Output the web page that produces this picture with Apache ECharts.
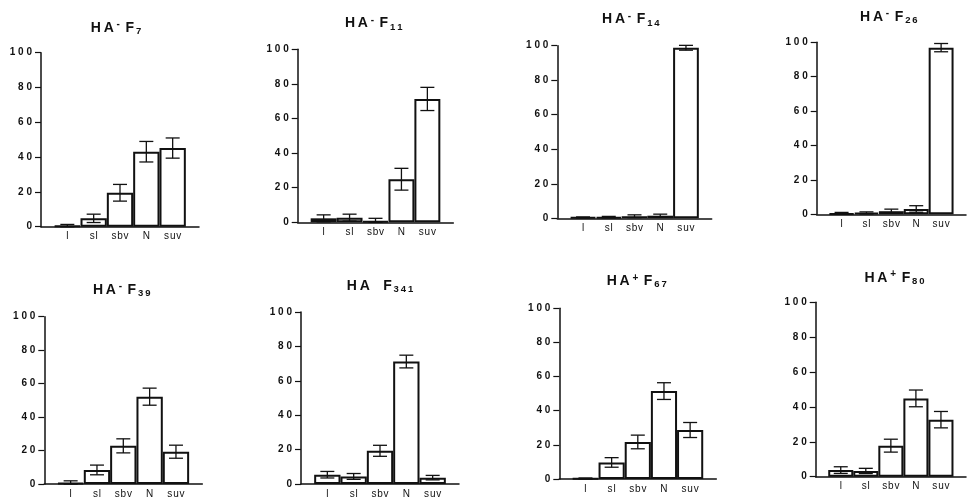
<!DOCTYPE html>
<html>
<head>
<meta charset="utf-8">
<script src="https://cdn.jsdelivr.net/npm/echarts@6/dist/echarts.min.js"></script>
<style>
html,body{margin:0;padding:0;background:#fff;}
#chart{width:969px;height:499px;}
</style>
</head>
<body>
<div id="chart"></div>
<script>
// ---- data ----
const categories = ['l', 'sl', 'sbv', 'N', 'suv'];
const yTicks = [0, 20, 40, 60, 80, 100];

const valuesF7   = [0.5, 4.8, 19.5, 43.1, 45.2];
const errorsF7   = [0.8, 2.4, 4.8, 5.9, 5.8];
const valuesF11  = [2.3, 2.7, 0.5, 24.9, 71.3];
const errorsF11  = [2.0, 2.0, 1.8, 6.3, 6.7];
const valuesF14  = [0.5, 0.7, 1.2, 1.5, 98.8];
const errorsF14  = [0.3, 0.4, 0.8, 0.9, 1.4];
const valuesF26  = [0.3, 0.8, 1.8, 3.1, 96.9];
const errorsF26  = [0.8, 0.6, 1.2, 1.9, 2.4];
const valuesF39  = [0.6, 8.4, 22.8, 52.2, 19.3];
const errorsF39  = [1.3, 2.9, 4.2, 5.1, 3.9];
const valuesF341 = [5.4, 4.4, 19.3, 71.2, 3.7];
const errorsF341 = [1.9, 1.7, 3.2, 3.7, 1.3];
const valuesF67  = [0.3, 9.7, 21.7, 51.5, 28.7];
const errorsF67  = [0.3, 2.8, 4.0, 4.9, 4.4];
const valuesF80  = [3.8, 3.3, 17.8, 44.9, 32.7];
const errorsF80  = [1.9, 1.5, 3.7, 4.8, 4.7];

// title parts: [sign, subscript]
const panels = [
  {sign: '-', sub: '7',   values: valuesF7,   errors: errorsF7},
  {sign: '-', sub: '11',  values: valuesF11,  errors: errorsF11},
  {sign: '-', sub: '14',  values: valuesF14,  errors: errorsF14},
  {sign: '-', sub: '26',  values: valuesF26,  errors: errorsF26},
  {sign: '-', sub: '39',  values: valuesF39,  errors: errorsF39},
  {sign: '',  sub: '341', values: valuesF341, errors: errorsF341},
  {sign: '+', sub: '67',  values: valuesF67,  errors: errorsF67},
  {sign: '+', sub: '80',  values: valuesF80,  errors: errorsF80}
];

// ---- layout (pixels) ----
const grids = [
  {left: 41,    top: 52.7,  width: 158,   height: 174},
  {left: 297.7, top: 49.3,  width: 155.6, height: 173},
  {left: 557.3, top: 45.7,  width: 154.4, height: 172.6},
  {left: 816.7, top: 42.3,  width: 151.3, height: 172},
  {left: 44.3,  top: 316.7, width: 158,   height: 171},
  {left: 301,   top: 312,   width: 158,   height: 172.3},
  {left: 559.3, top: 308.3, width: 157,   height: 170.7},
  {left: 815.7, top: 302.3, width: 156.3, height: 174.4}
];
const titlePos = [
  [116, 28], [373.7, 23.5], [630.8, 19.5], [888.8, 16.8],
  [121.7, 290], [380, 285.8], [636.7, 281.3], [894.5, 278]
];

const axisCats = [''].concat(categories, ['']);
const spaced = s => String(s).split('').join(' ');
const thin = s => String(s).split('').join('\u2009');
const FONT = 'Liberation Sans, Arial, sans-serif';

const option = {
  animation: false,
  backgroundColor: '#fff',
  grid: grids.map(g => Object.assign({containLabel: false}, g)),
  xAxis: grids.map((g, i) => ({
    type: 'category',
    gridIndex: i,
    data: axisCats,
    boundaryGap: false,
    axisLine: {show: true, onZero: false, lineStyle: {color: '#111', width: 1.5}},
    axisTick: {show: false},
    splitLine: {show: false},
    axisLabel: {interval: 0, margin: 5, color: '#111', fontSize: 10, fontFamily: FONT,
      formatter: v => v.split('').join('\u200A')}
  })),
  yAxis: grids.map((g, i) => ({
    type: 'value',
    gridIndex: i,
    min: yTicks[0],
    max: yTicks[yTicks.length - 1],
    interval: 20,
    axisLine: {show: true, lineStyle: {color: '#111', width: 1.5}},
    axisTick: {show: true, length: 6, lineStyle: {color: '#111', width: 1.2}},
    splitLine: {show: false},
    axisLabel: {margin: 9, color: '#111', fontSize: 10, fontWeight: 'bold', fontFamily: FONT,
      formatter: v => spaced(v)}
  })),
  series: [],
  graphic: []
};

panels.forEach((p, i) => {
  option.series.push({
    type: 'bar',
    xAxisIndex: i,
    yAxisIndex: i,
    barCategoryGap: '0%',
    data: [null].concat(p.values, [null]),
    itemStyle: {color: '#fff', borderColor: '#111', borderWidth: 2},
    silent: true
  });
  option.series.push({
    type: 'custom',
    xAxisIndex: i,
    yAxisIndex: i,
    data: p.values.map((v, k) => [k + 1, v, p.errors[k]]),
    z: 5,
    renderItem: (params, api) => {
      const x = api.value(0), v = api.value(1), e = api.value(2);
      const top = api.coord([x, v + e]);
      const bot = api.coord([x, Math.max(0, v - e)]);
      const hw = 7;
      const st = {stroke: '#111', lineWidth: 1.3};
      return {type: 'group', children: [
        {type: 'line', shape: {x1: top[0], y1: top[1], x2: bot[0], y2: bot[1]}, style: st},
        {type: 'line', shape: {x1: top[0] - hw, y1: top[1], x2: top[0] + hw, y2: top[1]}, style: st},
        {type: 'line', shape: {x1: bot[0] - hw, y1: bot[1], x2: bot[0] + hw, y2: bot[1]}, style: st}
      ]};
    }
  });
  const sign = p.sign === '' ? '\u2002' : p.sign;
  option.graphic.push({
    type: 'text',
    x: titlePos[i][0],
    y: titlePos[i][1],
    style: {
      text: '{m|H\u2009A}{sup| ' + sign + ' }{m|\u2009F}{sub|\u2009' + thin(p.sub) + '}',
      align: 'center', verticalAlign: 'middle',
      textAlign: 'center', textVerticalAlign: 'middle',
      fill: '#111',
      rich: {
        m: {fontSize: 14, fontWeight: 'bold', fontFamily: FONT, lineHeight: 17, fill: '#111'},
        sup: {fontSize: 10, fontWeight: 'bold', fontFamily: FONT, lineHeight: 10, verticalAlign: 'top', fill: '#111'},
        sub: {fontSize: 9.5, fontWeight: 'bold', fontFamily: FONT, lineHeight: 10, verticalAlign: 'bottom', fill: '#111'}
      }
    }
  });
});

const chart = echarts.init(document.getElementById('chart'), null, {renderer: 'canvas'});
chart.setOption(option);
</script>
</body>
</html>
